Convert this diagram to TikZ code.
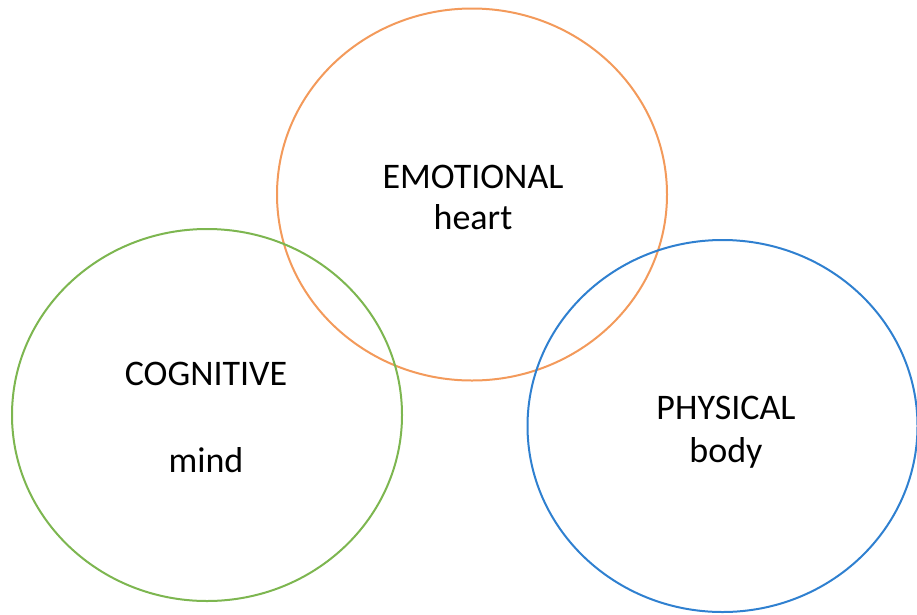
\documentclass[tikz,border=0pt]{standalone}
\usepackage{fontspec}
\setmainfont{Carlito}
\usetikzlibrary{shapes.geometric}
\usetikzlibrary{positioning}

\definecolor{heartorange}{HTML}{F39A5B}
\definecolor{mindgreen}{HTML}{7DB650}
\definecolor{bodyblue}{HTML}{2F80D0}

\tikzset{
    ring/.style={draw=#1, ellipse, line width=2pt, inner sep=0pt,
        minimum width=390pt, minimum height=372pt},
    word/.style={anchor=base, inner sep=0pt,
        font=\fontsize{36}{43}\selectfont}
}

\begin{document}
\begin{tikzpicture}[x=1pt,y=-1pt]
    \useasboundingbox (0,0) rectangle (917,614);

    % the three areas
    \node[ring=heartorange] (emotional) at (472,194.5) {};
    \node[ring=mindgreen] (cognitive) at (207,415) {};
    \node[ring=bodyblue] (physical) at (722.5,426) {};

    % labels
    \node[word] (emo) at (473,188) {EMOTIONAL};
    \node[word] (heart) at (473,229) {heart};
    \node[word] (cog) at (206,385) {COGNITIVE};
    \node[word] (mind) at (206,472) {mind};
    \node[word] (phy) at (726,419) {PHYSICAL};
    \node[word] (body) at (726,462) {body};
\end{tikzpicture}
\end{document}
